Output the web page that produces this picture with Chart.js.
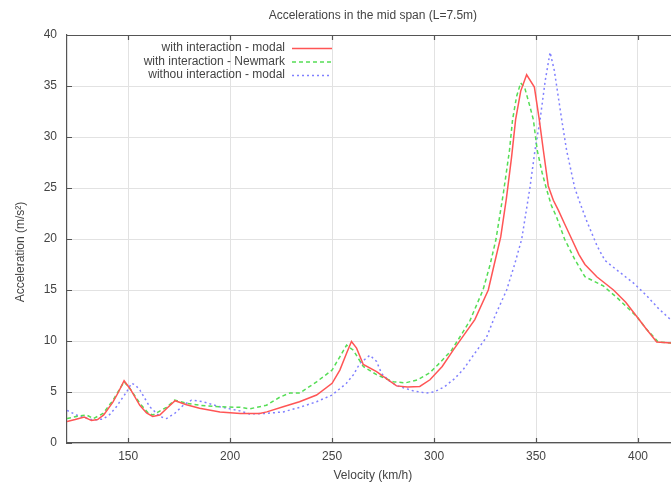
<!DOCTYPE html>
<html>
<head>
<meta charset="utf-8">
<script src="https://cdn.jsdelivr.net/npm/chart.js@4.4.1/dist/chart.umd.min.js"></script>
<style>
  html, body { margin: 0; padding: 0; background: #ffffff; }
  #wrap { width: 671px; height: 487px; }
</style>
</head>
<body>
<div id="wrap"><canvas id="c" width="671" height="487"></canvas></div>
<script>
// ---- data ----
const chartTitle = "Accelerations in the mid span (L=7.5m)";
const xTitle = "Velocity (km/h)";
const yTitle = "Acceleration (m/s²)";
const seriesNames = ["with interaction - modal", "with interaction - Newmark", "withou interaction - modal"];
const xTicks = [150, 200, 250, 300, 350, 400];
const yTicks = [0, 5, 10, 15, 20, 25, 30, 35, 40];

const vModal = [120,124,128.5,132,135,138,142.5,145,148,151,155.7,159,162,165.5,169,173,178.6,185,195,205,214.5,218,226,234,242.4,250,253.8,257.1,259.5,262,265.3,271.8,281.6,287,293,298,304,309.4,314,320,326.6,329.5,332.7,335.5,338,340,342.5,345.4,349.2,351.6,353.6,356,358.5,361,364,367.5,371,374,379.8,388,394,399.4,404,409.2,416.5];
const aModal = [2.1,2.3,2.55,2.2,2.3,2.75,4.0,4.9,6.1,5.3,3.7,2.95,2.6,2.75,3.4,4.15,3.75,3.4,3.05,2.9,2.9,3.05,3.55,4.05,4.7,5.85,7.15,8.8,9.95,9.3,7.7,7.0,5.6,5.5,5.55,6.2,7.5,9.1,10.4,12.1,15,17.5,20.2,24,28,31.7,34.5,36.1,34.9,31.7,28.7,25.2,23.8,22.8,21.5,20,18.5,17.5,16.3,15,13.8,12.4,11.2,9.9,9.8];

const vNewmark = [120,126,129.5,133,137.7,142.6,145,148,151,155.7,160,162.2,168.8,172.8,178.6,185,195,205,209.6,217.8,224.4,229.3,234.2,242.4,250,253.8,257.1,260.4,265.3,271.8,280,286,292,298,303,308.6,313,317.6,324,327.5,330.4,334,337,338.5,340.5,342.5,344.5,347,348.7,350.6,353,355,357.5,360,364,369,374,383,390,399.4,404,410,416.5];
const aNewmark = [2.4,2.65,2.75,2.4,2.9,4.2,5.0,6.0,5.3,3.9,2.9,2.75,3.5,4.2,3.9,3.7,3.55,3.5,3.35,3.7,4.5,4.9,4.9,6.0,7.15,8.45,9.6,9.1,7.5,6.7,6.0,5.9,6.2,6.9,7.9,9.1,10.5,12,15,17.5,20,24.5,28.7,31.7,34,35.3,34.8,33,31.7,28.7,26.5,25,23.3,22.2,20,18,16.3,15.4,14.2,12.4,11.2,9.9,9.8];

const vNoInter = [120,124.6,127.9,132.8,137.7,141,144.2,149.2,151.6,153.5,155.7,160.6,165.5,168.8,172.8,177,181,186.7,194.9,204.7,209.6,217.8,226,234.2,242.4,250,257,260.5,263.6,268.5,271.8,274.3,278,282,290,296,300,305,310,314.3,320,325.8,330,335.6,339.5,343,347,349.5,352,354.5,356.9,359,362.6,365,369,372,375,380,383.8,390,397.7,404,410,416.5];
const aNoInter = [3.2,2.75,2.5,2.25,2.35,2.8,3.55,5.0,5.85,5.7,5.2,3.55,2.6,2.4,2.9,3.7,4.2,4.05,3.55,3.15,2.85,2.9,3.05,3.5,4.05,4.7,5.85,6.7,7.8,8.6,8.0,6.8,6.1,5.6,5.1,4.9,5.0,5.5,6.3,7.2,8.8,10.4,12.5,15,17.5,20,25,28.7,31.7,35.5,38.3,36.5,31.7,28.7,25,23.3,21.7,19.3,17.9,16.9,15.7,14.5,13.2,12];

// ---- styling ----
const FONT = "'Liberation Sans', Arial, Helvetica, sans-serif";
const TEXT = "#444444";
const AXIS = "#555555";
const GRID = "#e2e2e2";
const colors = ["#ff5555", "#55dd55", "#8080ff"];
const dashes = [[], [4, 3], [2, 3]];

function pts(xs, ys) { return xs.map((x, i) => ({ x: x, y: ys[i] })); }

const decor = {
  id: "decor",
  afterDraw(chart) {
    const ctx = chart.ctx;
    const a = chart.chartArea;
    const xs = chart.scales.x, ys = chart.scales.y;
    ctx.save();
    // top border
    ctx.strokeStyle = AXIS;
    ctx.lineWidth = 1.2;
    ctx.beginPath();
    ctx.moveTo(a.left, a.top + 0.5);
    ctx.lineTo(a.right, a.top + 0.5);
    ctx.stroke();
    // inward ticks
    ctx.lineWidth = 1.2;
    ctx.beginPath();
    xTicks.forEach(v => {
      const px = Math.round(xs.getPixelForValue(v)) + 0.5;
      ctx.moveTo(px, a.bottom); ctx.lineTo(px, a.bottom - 5);
      ctx.moveTo(px, a.top); ctx.lineTo(px, a.top + 5);
    });
    yTicks.forEach(v => {
      const py = Math.round(ys.getPixelForValue(v)) + 0.5;
      ctx.moveTo(a.left, py); ctx.lineTo(a.left + 5, py);
    });
    ctx.stroke();
    // titles
    ctx.fillStyle = TEXT;
    ctx.font = "12px " + FONT;
    ctx.textAlign = "center";
    ctx.textBaseline = "middle";
    const cx = xs.getPixelForValue(270);
    ctx.fillText(chartTitle, cx, 16);
    ctx.fillText(xTitle, cx, 476);
    ctx.save();
    ctx.translate(21, 252);
    ctx.rotate(-Math.PI / 2);
    ctx.fillText(yTitle, 0, 0);
    ctx.restore();
    // legend
    const rows = [48, 61.5, 75];
    ctx.textAlign = "right";
    seriesNames.forEach((name, i) => {
      ctx.fillStyle = TEXT;
      ctx.fillText(name, 285, rows[i]);
      ctx.strokeStyle = colors[i];
      ctx.lineWidth = 1.5;
      ctx.setLineDash(dashes[i]);
      ctx.beginPath();
      ctx.moveTo(292, rows[i] + 0.5);
      ctx.lineTo(332, rows[i] + 0.5);
      ctx.stroke();
      ctx.setLineDash([]);
    });
    ctx.restore();
  }
};

new Chart(document.getElementById("c"), {
  type: "scatter",
  data: {
    datasets: [
      { label: seriesNames[0], data: pts(vModal, aModal), borderColor: colors[0], borderWidth: 1.5, borderDash: dashes[0] },
      { label: seriesNames[1], data: pts(vNewmark, aNewmark), borderColor: colors[1], borderWidth: 1.5, borderDash: dashes[1] },
      { label: seriesNames[2], data: pts(vNoInter, aNoInter), borderColor: colors[2], borderWidth: 1.5, borderDash: dashes[2] }
    ].map(d => Object.assign(d, { showLine: true, pointRadius: 0, tension: 0, fill: false }))
  },
  options: {
    responsive: false,
    animation: false,
    devicePixelRatio: 1,
    layout: { padding: { top: 35, left: 0, right: 0, bottom: 0 } },
    plugins: { legend: { display: false }, title: { display: false }, tooltip: { enabled: false } },
    scales: {
      x: {
        type: "linear",
        min: 120, max: 416.2,
        afterFit(s) { s.height = 44; },
        afterBuildTicks(s) { s.ticks = xTicks.map(v => ({ value: v })); },
        ticks: { padding: 6, color: TEXT, font: { size: 12, family: FONT }, maxRotation: 0, includeBounds: false },
        grid: { color: GRID, drawTicks: false, lineWidth: 1 },
        border: { color: AXIS, width: 1.2 }
      },
      y: {
        type: "linear",
        min: 0, max: 40,
        afterFit(s) { s.width = 67; },
        afterBuildTicks(s) { s.ticks = yTicks.map(v => ({ value: v })); },
        ticks: { padding: 10, color: TEXT, font: { size: 12, family: FONT } },
        grid: { color: GRID, drawTicks: false, lineWidth: 1 },
        border: { color: AXIS, width: 1.2 }
      }
    }
  },
  plugins: [decor]
});
</script>
</body>
</html>
